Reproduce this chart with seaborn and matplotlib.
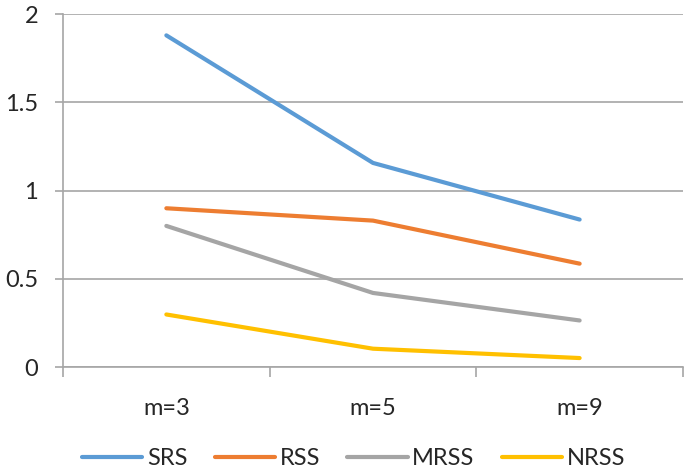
import matplotlib
matplotlib.use("Agg")
from matplotlib import pyplot as plt
import seaborn as sns
import pandas as pd

# values
categories = ['m=3', 'm=5', 'm=9']
srs = [1.88, 1.157, 0.836]
rss = [0.90, 0.83, 0.586]
mrss = [0.80, 0.42, 0.264]
nrss = [0.298, 0.104, 0.051]
series_names = ['SRS', 'RSS', 'MRSS', 'NRSS']
colors = ['#5B9BD5', '#ED7D31', '#A5A5A5', '#FFC000']

rows = []
for name, vals in zip(series_names, [srs, rss, mrss, nrss]):
    for cat, v in zip(categories, vals):
        rows.append({'cat': cat, 'value': v, 'series': name})
df = pd.DataFrame(rows)

sns.set_style("white")
plt.rcParams['font.family'] = ['Lato', 'DejaVu Sans']
grid_col = '#A6A6A6'

fig = plt.figure(figsize=(6.85, 4.73), dpi=100)
ax = fig.add_axes([0.092, 0.224, 0.905, 0.746])

sns.lineplot(data=df, x='cat', y='value', hue='series', hue_order=series_names,
             palette=colors, linewidth=3, sort=False, ax=ax)

ax.set_xlim(-0.5, 2.5)
ax.set_ylim(0, 2)
ax.set_yticks([0, 0.5, 1, 1.5, 2])
ax.set_yticklabels(['0', '0.5', '1', '1.5', '2'])
ax.yaxis.grid(True, color=grid_col, linewidth=1.2)
ax.set_axisbelow(True)

# category boundary ticks like a spreadsheet chart
ax.set_xticks([0, 1, 2])
ax.set_xticklabels(categories)
ax.set_xticks([-0.5, 0.5, 1.5, 2.5], minor=True)
ax.tick_params(axis='x', which='major', length=0, pad=22, labelsize=17)
ax.tick_params(axis='x', which='minor', length=7, width=1.2, color=grid_col, direction='out', bottom=True)
ax.tick_params(axis='y', length=6, width=1.2, color=grid_col, direction='out', left=True, labelsize=17, pad=12)

for s in ['top', 'right']:
    ax.spines[s].set_visible(False)
ax.spines['left'].set_color(grid_col)
ax.spines['left'].set_linewidth(1.2)
ax.spines['bottom'].set_color(grid_col)
ax.spines['bottom'].set_linewidth(1.2)

ax.set_xlabel('')
ax.set_ylabel('')

ax.legend(loc='center', bbox_to_anchor=(0.469, -0.26), ncol=4, frameon=False,
          fontsize=17, handlelength=2.55, handletextpad=0.2, columnspacing=1.15)

fig.savefig('out.png', dpi=100)
